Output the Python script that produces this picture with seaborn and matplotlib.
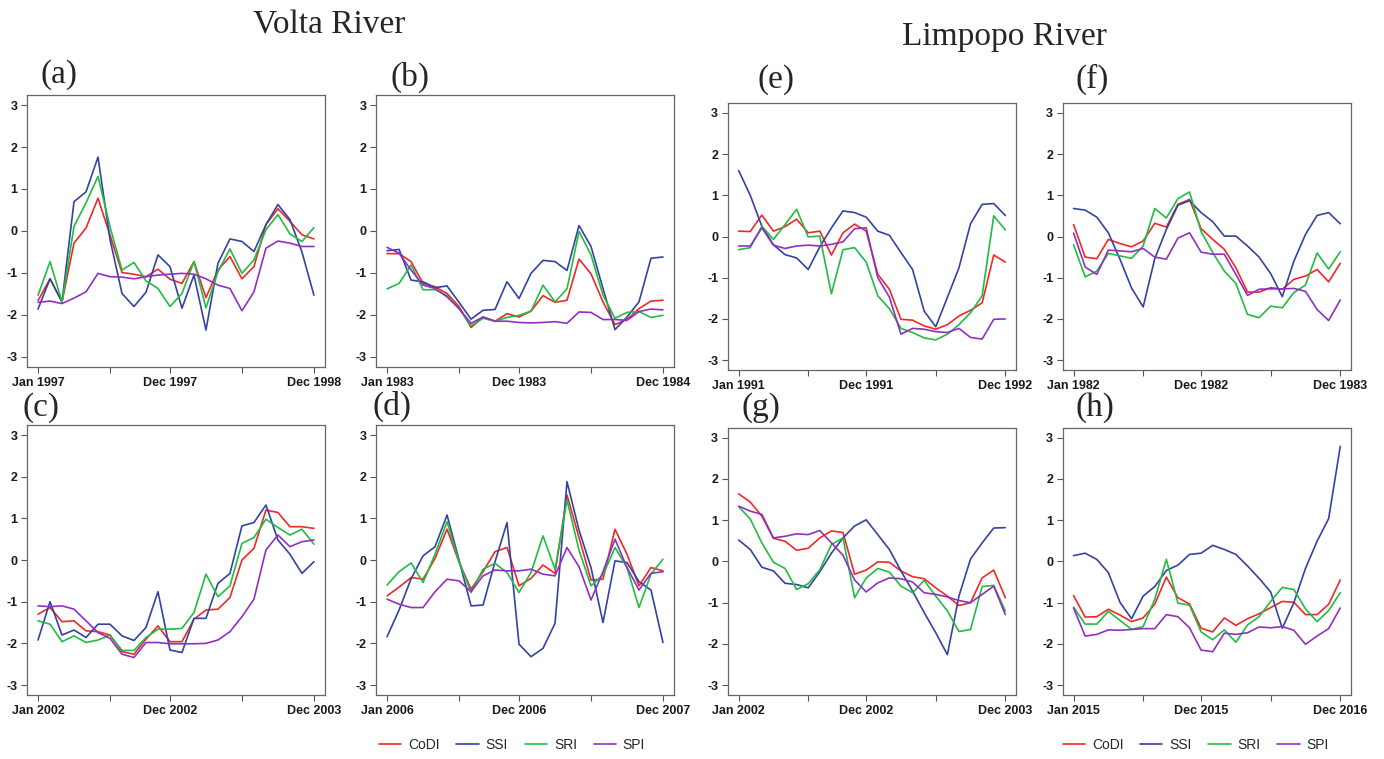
import numpy as np
import pandas as pd
import matplotlib
matplotlib.use("Agg")
import matplotlib.pyplot as plt
import seaborn as sns
from matplotlib.lines import Line2D

# Monthly drought index values, 24 months per panel
indices = ["CoDI", "SSI", "SRI", "SPI"]
colors = {"CoDI": "#f02828", "SSI": "#3343a2", "SRI": "#22bb44", "SPI": "#9030c2"}

# (a) Volta, Jan 1997 - Dec 1998
codi_a = [-1.66, -1.14, -1.69, -0.29, 0.07, 0.78, -0.1, -0.99, -1.03, -1.09, -0.91, -1.15,
          -1.25, -0.73, -1.59, -0.93, -0.61, -1.14, -0.85, 0.15, 0.53, 0.23, -0.09, -0.19]
ssi_a = [-1.86, -1.14, -1.69, 0.70, 0.93, 1.76, -0.2, -1.49, -1.80, -1.46, -0.57, -0.85,
         -1.84, -1.05, -2.36, -0.77, -0.19, -0.25, -0.49, 0.15, 0.63, 0.27, -0.5, -1.53]
sri_a = [-1.53, -0.73, -1.69, 0.11, 0.67, 1.30, 0.1, -0.93, -0.75, -1.19, -1.37, -1.80,
         -1.49, -0.73, -1.83, -0.97, -0.43, -1.01, -0.69, 0.03, 0.39, -0.07, -0.25, 0.08]
spi_a = [-1.70, -1.67, -1.73, -1.60, -1.45, -1.01, -1.09, -1.10, -1.14, -1.09, -1.05, -1.03,
         -1.01, -1.03, -1.14, -1.29, -1.37, -1.90, -1.45, -0.41, -0.24, -0.29, -0.37, -0.37]

# (b) Volta, Jan 1983 - Dec 1984
codi_b = [-0.54, -0.54, -0.73, -1.25, -1.33, -1.49, -1.80, -2.30, -2.05, -2.15, -1.97, -2.05,
          -1.91, -1.54, -1.70, -1.65, -0.67, -1.02, -1.69, -2.23, -2.11, -1.85, -1.67, -1.65]
ssi_b = [-0.47, -0.44, -1.17, -1.21, -1.35, -1.31, -1.70, -2.10, -1.89, -1.87, -1.21, -1.61,
         -1.01, -0.70, -0.73, -0.94, 0.13, -0.37, -1.37, -2.35, -2.05, -1.69, -0.65, -0.62]
sri_b = [-1.38, -1.25, -0.81, -1.40, -1.40, -1.54, -1.85, -2.26, -2.08, -2.15, -2.06, -2.01,
         -1.91, -1.29, -1.69, -1.38, -0.01, -0.57, -1.53, -2.08, -1.94, -1.92, -2.06, -2.01]
spi_b = [-0.39, -0.53, -0.93, -1.29, -1.37, -1.57, -1.85, -2.20, -2.05, -2.15, -2.15, -2.18,
         -2.19, -2.18, -2.16, -2.20, -1.93, -1.94, -2.11, -2.11, -2.13, -1.92, -1.86, -1.88]

# (c) Volta, Jan 2002 - Dec 2003
codi_c = [-1.30, -1.14, -1.48, -1.46, -1.70, -1.72, -1.80, -2.20, -2.26, -1.90, -1.58, -1.96,
          -1.96, -1.42, -1.20, -1.18, -0.90, 0.00, 0.28, 1.20, 1.14, 0.80, 0.80, 0.76]
ssi_c = [-1.92, -1.00, -1.80, -1.68, -1.86, -1.54, -1.54, -1.82, -1.93, -1.62, -0.76, -2.16,
         -2.22, -1.40, -1.40, -0.56, -0.32, 0.82, 0.90, 1.32, 0.48, 0.14, -0.32, -0.04]
sri_c = [-1.46, -1.54, -1.96, -1.82, -1.98, -1.92, -1.80, -2.17, -2.17, -1.86, -1.66, -1.66,
         -1.64, -1.26, -0.34, -0.88, -0.62, 0.40, 0.54, 0.98, 0.78, 0.60, 0.74, 0.38]
spi_c = [-1.10, -1.12, -1.10, -1.18, -1.46, -1.74, -1.88, -2.26, -2.34, -1.98, -1.98, -2.01,
         -2.01, -2.01, -2.00, -1.92, -1.72, -1.36, -0.94, 0.24, 0.60, 0.32, 0.44, 0.48]

# (d) Volta, Jan 2006 - Dec 2007
codi_d = [-0.86, -0.65, -0.42, -0.46, 0.04, 0.74, -0.05, -0.70, -0.28, 0.20, 0.30, -0.62,
          -0.44, -0.12, -0.32, 1.56, 0.54, -0.48, -0.46, 0.74, 0.14, -0.62, -0.18, -0.26]
ssi_d = [-1.84, -1.20, -0.45, 0.10, 0.32, 1.08, 0.00, -1.10, -1.08, -0.04, 0.90, -2.02,
         -2.32, -2.12, -1.52, 1.88, 0.72, -0.18, -1.50, -0.02, -0.06, -0.52, -0.72, -1.98]
sri_d = [-0.60, -0.28, -0.07, -0.54, 0.14, 0.92, -0.04, -0.78, -0.22, -0.08, -0.30, -0.78,
         -0.30, 0.58, -0.22, 1.44, 0.24, -0.62, -0.36, 0.30, -0.18, -1.14, -0.34, 0.02]
spi_d = [-0.94, -1.06, -1.14, -1.14, -0.76, -0.46, -0.50, -0.76, -0.38, -0.24, -0.26, -0.26,
         -0.22, -0.34, -0.38, 0.30, -0.16, -0.96, -0.28, 0.50, -0.18, -0.72, -0.32, -0.28]

# (e) Limpopo, Jan 1991 - Dec 1992
codi_e = [0.13, 0.12, 0.52, 0.13, 0.24, 0.42, 0.09, 0.13, -0.45, 0.09, 0.30, 0.13,
          -0.92, -1.28, -2.01, -2.03, -2.17, -2.25, -2.14, -1.93, -1.79, -1.61, -0.45, -0.62]
ssi_e = [1.60, 1.00, 0.25, -0.20, -0.44, -0.52, -0.80, -0.25, 0.21, 0.62, 0.58, 0.47,
         0.13, 0.03, -0.39, -0.80, -1.81, -2.19, -1.48, -0.76, 0.31, 0.78, 0.80, 0.51]
sri_e = [-0.32, -0.27, 0.25, -0.07, 0.29, 0.66, -0.01, 0.01, -1.39, -0.32, -0.27, -0.62,
         -1.44, -1.75, -2.23, -2.33, -2.46, -2.51, -2.37, -2.14, -1.85, -1.44, 0.50, 0.16]
spi_e = [-0.23, -0.23, 0.21, -0.21, -0.29, -0.23, -0.21, -0.23, -0.19, -0.13, 0.19, 0.21,
         -1.00, -1.47, -2.37, -2.23, -2.25, -2.31, -2.33, -2.23, -2.45, -2.49, -2.01, -2.00]

# (f) Limpopo, Jan 1982 - Dec 1983
codi_f = [0.29, -0.50, -0.54, -0.07, -0.17, -0.25, -0.11, 0.32, 0.23, 0.78, 0.90, 0.19,
          -0.07, -0.31, -0.76, -1.35, -1.35, -1.24, -1.28, -1.04, -0.96, -0.80, -1.10, -0.65]
ssi_f = [0.68, 0.64, 0.47, 0.09, -0.55, -1.25, -1.71, -0.54, 0.17, 0.76, 0.87, 0.58,
         0.36, 0.01, 0.01, -0.23, -0.50, -0.90, -1.46, -0.60, 0.05, 0.51, 0.58, 0.31]
sri_f = [-0.20, -0.98, -0.84, -0.41, -0.47, -0.53, -0.23, 0.68, 0.45, 0.92, 1.08, 0.12,
         -0.39, -0.84, -1.14, -1.89, -1.97, -1.69, -1.73, -1.36, -1.18, -0.40, -0.79, -0.37]
spi_f = [0.08, -0.74, -0.92, -0.33, -0.35, -0.37, -0.29, -0.50, -0.55, -0.04, 0.09, -0.38,
         -0.43, -0.43, -0.92, -1.43, -1.28, -1.27, -1.27, -1.26, -1.33, -1.77, -2.04, -1.54]

# (g) Limpopo, Jan 2002 - Dec 2003
codi_g = [1.64, 1.44, 1.10, 0.56, 0.49, 0.27, 0.32, 0.57, 0.74, 0.70, -0.31, -0.21,
          -0.01, -0.02, -0.23, -0.37, -0.42, -0.64, -0.84, -1.07, -1.00, -0.40, -0.21, -0.88]
ssi_g = [0.52, 0.29, -0.14, -0.23, -0.53, -0.56, -0.64, -0.25, 0.20, 0.57, 0.86, 1.01,
         0.65, 0.29, -0.23, -0.72, -1.24, -1.73, -2.26, -0.84, 0.06, 0.45, 0.81, 0.82]
sri_g = [1.33, 1.03, 0.45, -0.02, -0.17, -0.68, -0.54, -0.20, 0.41, 0.57, -0.88, -0.40,
         -0.17, -0.26, -0.60, -0.76, -0.46, -0.84, -1.20, -1.70, -1.65, -0.61, -0.58, -1.20]
spi_g = [1.34, 1.22, 1.14, 0.57, 0.61, 0.67, 0.65, 0.75, 0.45, 0.15, -0.45, -0.74,
         -0.52, -0.40, -0.42, -0.50, -0.76, -0.80, -0.86, -0.95, -1.00, -0.80, -0.60, -1.29]

# (h) Limpopo, Jan 2015 - Dec 2016
codi_h = [-0.83, -1.35, -1.34, -1.16, -1.30, -1.46, -1.37, -1.04, -0.38, -0.88, -1.03, -1.62,
          -1.71, -1.37, -1.55, -1.39, -1.27, -1.12, -0.97, -0.99, -1.29, -1.29, -1.04, -0.45]
ssi_h = [0.14, 0.20, 0.05, -0.27, -0.99, -1.39, -0.84, -0.61, -0.22, -0.09, 0.17, 0.20,
         0.39, 0.29, 0.17, -0.11, -0.41, -0.74, -1.62, -1.00, -0.17, 0.49, 1.04, 2.79]
sri_h = [-1.11, -1.52, -1.52, -1.21, -1.43, -1.65, -1.58, -0.92, 0.05, -1.01, -1.06, -1.71,
         -1.90, -1.66, -1.96, -1.54, -1.34, -0.97, -0.63, -0.68, -1.15, -1.46, -1.19, -0.76]
spi_h = [-1.13, -1.81, -1.77, -1.66, -1.67, -1.65, -1.63, -1.63, -1.29, -1.34, -1.61, -2.15,
         -2.19, -1.74, -1.77, -1.73, -1.59, -1.61, -1.58, -1.67, -2.01, -1.81, -1.63, -1.13]

start_years = {"a": 1997, "b": 1983, "c": 2002, "d": 2006,
               "e": 1991, "f": 1982, "g": 2002, "h": 2015}

panels = {
    "a": (codi_a, ssi_a, sri_a, spi_a), "b": (codi_b, ssi_b, sri_b, spi_b),
    "c": (codi_c, ssi_c, sri_c, spi_c), "d": (codi_d, ssi_d, sri_d, spi_d),
    "e": (codi_e, ssi_e, sri_e, spi_e), "f": (codi_f, ssi_f, sri_f, spi_f),
    "g": (codi_g, ssi_g, sri_g, spi_g), "h": (codi_h, ssi_h, sri_h, spi_h),
}

# axes boxes in figure fractions [left, bottom, width, height]
boxes = {
    "a": [0.0195, 0.5165, 0.2153, 0.3584], "b": [0.2717, 0.5165, 0.2153, 0.3584],
    "c": [0.0195, 0.0843, 0.2153, 0.3557], "d": [0.2717, 0.0843, 0.2153, 0.3557],
    "e": [0.526, 0.5125, 0.2081, 0.3518], "f": [0.768, 0.5125, 0.2081, 0.3518],
    "g": [0.526, 0.0843, 0.2081, 0.352], "h": [0.768, 0.0843, 0.2081, 0.352],
}
label_pos = {"a": (0.029, 0.902), "b": (0.282, 0.898), "c": (0.016, 0.463), "d": (0.269, 0.464),
             "e": (0.547, 0.895), "f": (0.777, 0.896), "g": (0.536, 0.463), "h": (0.777, 0.463)}

sns.set_style("white")
plt.rcParams["font.family"] = ["Liberation Sans", "DejaVu Sans"]
serif = ["Liberation Serif", "DejaVu Serif"]

fig = plt.figure(figsize=(13.84, 7.59), dpi=100)

for key, series in panels.items():
    ax = fig.add_axes(boxes[key])
    rows = []
    for name, vals in zip(indices, series):
        for m, v in enumerate(vals):
            rows.append({"month": m, "value": v, "index": name})
    df = pd.DataFrame(rows)
    sns.lineplot(data=df, x="month", y="value", hue="index", hue_order=indices,
                 palette=colors, estimator=None, sort=False, legend=False,
                 linewidth=1.2, ax=ax)
    ax.set_xlim(-0.92, 23.92)
    ax.set_ylim(-3.24, 3.24)
    ax.set_yticks([-3, -2, -1, 0, 1, 2, 3])
    ax.set_yticklabels(["-3", "-2", "-1", "0", "1", "2", "3"], fontweight="bold", fontsize=9)
    y0 = start_years[key]
    ax.set_xticks([0, 6, 11, 17, 23])
    ax.set_xticklabels([f"Jan {y0}", "", f"Dec {y0}", "", f"Dec {y0 + 1}"],
                       fontweight="bold", fontsize=9)
    ax.set_xlabel("")
    ax.set_ylabel("")
    ax.tick_params(axis="both", direction="out", length=4, width=0.8, color="#555555",
                   labelcolor="#1a1a1a", pad=3, left=True, bottom=True)
    for sp in ax.spines.values():
        sp.set_color("#666666")
        sp.set_linewidth(0.9)
    fig.text(*label_pos[key], f"({key})", family=serif, fontsize=24, ha="left", va="center")

fig.text(0.238, 0.967, "Volta River", family=serif, fontsize=24, ha="center", va="center")
fig.text(0.726, 0.951, "Limpopo River", family=serif, fontsize=24, ha="center", va="center")

handles = [Line2D([0], [0], color=colors[n], lw=1.2) for n in indices]
for cx in (0.37, 0.864):
    fig.legend(handles, indices, loc="center", bbox_to_anchor=(cx, 0.018), ncol=4,
               frameon=False, fontsize=10, handlelength=1.6, handletextpad=0.5,
               columnspacing=1.2)

fig.savefig("out.png", dpi=100)
